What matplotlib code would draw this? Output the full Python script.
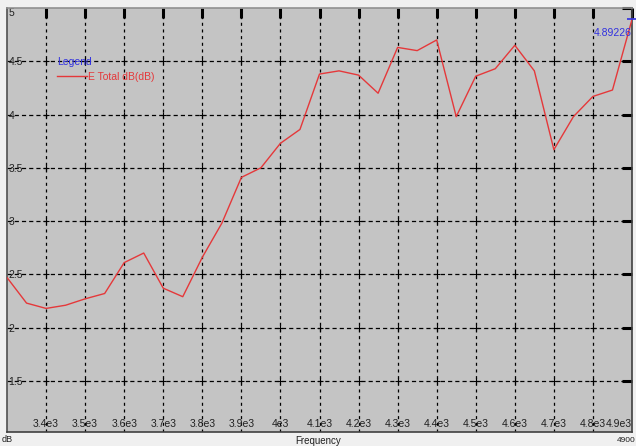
#!/usr/bin/env python3
"""E Total dB versus frequency, drawn in the old instrument-plot style."""

import matplotlib

matplotlib.use("Agg")
matplotlib.rcParams.update(
    {
        "font.family": ["Liberation Sans", "DejaVu Sans"],
        "font.size": 7.5,
        "lines.scale_dashes": False,
    }
)
import matplotlib.pyplot as plt
import numpy as np

# frequency (MHz) and E Total (dB)
FREQ = [
    3300, 3350, 3400, 3450, 3500, 3550, 3600, 3650, 3700, 3750, 3800,
    3850, 3900, 3950, 4000, 4050, 4100, 4150, 4200, 4250, 4300, 4350,
    4400, 4450, 4500, 4550, 4600, 4650, 4700, 4750, 4800, 4850, 4900,
]
E_TOTAL_DB = [
    2.47, 2.23, 2.18, 2.21, 2.27, 2.32, 2.61, 2.70, 2.37, 2.29, 2.66,
    2.98, 3.41, 3.50, 3.73, 3.86, 4.38, 4.41, 4.37, 4.20, 4.63, 4.60,
    4.70, 3.98, 4.36, 4.43, 4.65, 4.41, 3.67, 3.98, 4.17, 4.23, 4.89226,
]
X_TICKS = [3400, 3500, 3600, 3700, 3800, 3900, 4000, 4100, 4200, 4300,
           4400, 4500, 4600, 4700, 4800, 4900]
X_TICK_LABELS = ["3.4e3", "3.5e3", "3.6e3", "3.7e3", "3.8e3", "3.9e3", "4e3",
                 "4.1e3", "4.2e3", "4.3e3", "4.4e3", "4.5e3", "4.6e3",
                 "4.7e3", "4.8e3", "4.9e3"]
Y_TICKS = [1.5, 2, 2.5, 3, 3.5, 4, 4.5, 5]
Y_TICK_LABELS = ["1.5", "2", "2.5", "3", "3.5", "4", "4.5", "5"]
SERIES_LABEL = "E Total dB(dB)"
MARKER_LABEL = "4.89226"

W, H = 636, 446
fig = plt.figure(figsize=(W / 100, H / 100), dpi=100, facecolor="#f0f0f0")
ax = fig.add_axes([7 / W, 1 - 432 / H, 625 / W, 424 / H], facecolor="#c4c4c4")

ax.set_xlim(3300, 4900)
ax.set_ylim(1.02, 4.99)

# grid: dotted verticals, dashed horizontals, crosses at intersections
for xv in X_TICKS[:-1]:
    ax.axvline(xv, color="black", linewidth=0.9, dashes=(2.2, 2.6), zorder=1)
for yv in Y_TICKS[:-1]:
    ax.axhline(yv, color="black", linewidth=0.9, dashes=(3.0, 2.2), zorder=1)
gx, gy = np.meshgrid(X_TICKS[:-1], Y_TICKS[:-1])
ax.scatter(gx.ravel(), gy.ravel(), marker="+", s=22, color="black",
           linewidths=0.8, zorder=1)

(line,) = ax.plot(FREQ, E_TOTAL_DB, color="#e5383a", linewidth=1.0,
                  label=SERIES_LABEL, zorder=3)

# marker readout at the last point
ax.plot(FREQ[-1], E_TOTAL_DB[-1], marker="_", markersize=7, color="#3030e0",
        markeredgewidth=1.2, clip_on=False, zorder=4)
ax.text(0.999, 0.94, MARKER_LABEL, transform=ax.transAxes, color="#3030e0",
        ha="right", va="center", fontsize=7.5, zorder=4)

ax.set_xticks(X_TICKS)
ax.set_xticklabels(X_TICK_LABELS)
ax.set_yticks(Y_TICKS)
ax.set_yticklabels(Y_TICK_LABELS)
ax.tick_params(axis="x", direction="in", bottom=False, top=True, length=7,
               width=2.2, color="black", pad=-9.5, labelsize=7.5,
               labelcolor="#202020")
ax.tick_params(axis="y", direction="in", left=False, right=True, length=7,
               width=2.2, color="black", pad=-1, labelsize=7.5,
               labelcolor="#202020")
for lab in ax.get_yticklabels():
    lab.set_horizontalalignment("left")
ax.yaxis.get_major_ticks()[-1].label1.set_verticalalignment("top")
ax.xaxis.get_major_ticks()[-1].label1.set_horizontalalignment("right")

for side, col in (("left", "#505050"), ("bottom", "#404040"),
                  ("right", "#404040"), ("top", "#909090")):
    ax.spines[side].set_color(col)
    ax.spines[side].set_linewidth(1.2)

leg = ax.legend(handles=[line], title="Legend", loc="upper left",
                bbox_to_anchor=(0.08, 0.885), frameon=False, borderpad=0,
                borderaxespad=0, handlelength=2.9, handletextpad=0.05,
                alignment="left", fontsize=7.5, title_fontsize=7.5)
leg.get_title().set_color("#3030e0")
for txt in leg.get_texts():
    txt.set_color("#e5383a")

fig.text(2 / W, 1 - 440 / H, "dB", fontsize=6.5, va="center", ha="left",
         color="#202020")
fig.text(318 / W, 1 - 441 / H, "Frequency", fontsize=7, va="center",
         ha="center", color="#202020")
fig.text(1.0, 1 - 440 / H, "4900", fontsize=6, va="center", ha="right",
         color="#202020")

fig.savefig("out.png", dpi=100, facecolor=fig.get_facecolor())
